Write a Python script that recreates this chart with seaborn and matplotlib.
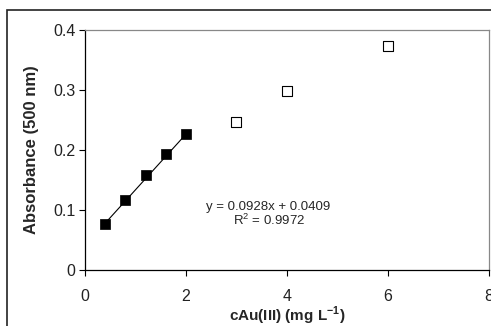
import matplotlib
matplotlib.use("Agg")
import matplotlib.pyplot as plt
import seaborn as sns
import numpy as np
import pandas as pd
from matplotlib.patches import Rectangle

# Data
cal_x = [0.4, 0.8, 1.2, 1.6, 2.0]
cal_y = [0.076, 0.117, 0.158, 0.193, 0.226]
ext_x = [3.0, 4.0, 6.0]
ext_y = [0.247, 0.298, 0.373]
slope = 0.0928
intercept = 0.0409
x_ticks = [0, 2, 4, 6, 8]
y_ticks = [0, 0.1, 0.2, 0.3, 0.4]
y_tick_labels = ["0", "0.1", "0.2", "0.3", "0.4"]

sns.set_theme(style="white")
plt.rcParams['font.family'] = ['Liberation Sans', 'DejaVu Sans']
plt.rcParams['mathtext.fontset'] = 'custom'
plt.rcParams['mathtext.rm'] = 'Liberation Sans'
plt.rcParams['mathtext.bf'] = 'Liberation Sans:bold'

fig = plt.figure(figsize=(4.91, 3.26), dpi=100)
fig.patch.set_facecolor("white")
ax = fig.add_axes([85/491, 56/326, 404/491, 240/326])

cal = pd.DataFrame({"x": cal_x, "y": cal_y})
ext = pd.DataFrame({"x": ext_x, "y": ext_y})
fit = pd.DataFrame({"x": [cal_x[0], cal_x[-1]],
                    "y": [slope * cal_x[0] + intercept, slope * cal_x[-1] + intercept]})

sns.lineplot(data=fit, x="x", y="y", ax=ax, color="black", linewidth=0.8, zorder=2)
sns.scatterplot(data=cal, x="x", y="y", ax=ax, marker="s", s=62, color="black",
                edgecolor="black", linewidth=0.5, zorder=3)
sns.scatterplot(data=ext, x="x", y="y", ax=ax, marker="s", s=50, facecolor="white",
                edgecolor="black", linewidth=0.8, zorder=3)

ax.set_xlim(0, 8)
ax.set_ylim(0, 0.4)
ax.set_xticks(x_ticks)
ax.set_xticklabels([str(t) for t in x_ticks])
ax.set_yticks(y_ticks)
ax.set_yticklabels(y_tick_labels)
ax.tick_params(axis="both", direction="out", length=4, width=0.8, colors="black",
               labelsize=11.5, labelcolor="#222222", bottom=True, left=True)
ax.tick_params(axis="x", pad=10)
ax.tick_params(axis="y", pad=3)

for side in ["left", "bottom"]:
    ax.spines[side].set_color("black")
    ax.spines[side].set_linewidth(0.9)
for side in ["top", "right"]:
    ax.spines[side].set_color("#888888")
    ax.spines[side].set_linewidth(0.9)

ax.set_xlabel(r"cAu(III) (mg L$^{\mathbf{-1}}$)", fontsize=11, fontweight="bold",
              labelpad=0)
ax.set_ylabel("Absorbance (500 nm)", fontsize=12, fontweight="bold", labelpad=10)

ax.text(3.63, 0.105, "y = 0.0928x + 0.0409", fontsize=9.5, ha="center", va="center")
ax.text(3.64, 0.082, r"R$^2$ = 0.9972", fontsize=9.5, ha="center", va="center")

fig.patches.append(Rectangle((7/491, -0.2), 1.5, (316/326) + 0.2,
                             transform=fig.transFigure, fill=False,
                             edgecolor="#222222", linewidth=1.2, zorder=0))

fig.savefig("out.png", dpi=100)
